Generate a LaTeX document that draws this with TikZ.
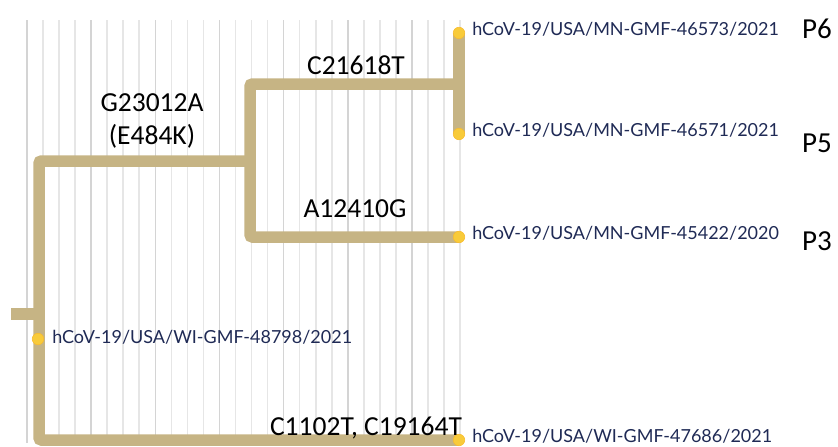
\documentclass[tikz,border=0pt]{standalone}
\usepackage{fontspec}
\usepackage{xcolor}
\usetikzlibrary{positioning, calc, backgrounds}
\newfontfamily\tipfont{Lato}
\newfontfamily\mutfont{Carlito}
\definecolor{branchtan}{HTML}{C6B484}
\definecolor{tipyellow}{HTML}{F8CB3A}
\definecolor{tipnavy}{HTML}{1F2A55}
\definecolor{gridlight}{HTML}{E6E6E6}
\definecolor{griddark}{HTML}{D4D4D4}

\begin{document}
\begin{tikzpicture}[
    x=1pt, y=-1pt,
    branch/.style={draw=branchtan, line width=11.5pt, rounded corners=2.5pt},
    tipdot/.style={circle, fill=tipyellow, draw=tipyellow!80!orange, line width=0.6pt, inner sep=0pt, minimum size=11.5pt},
    tiplabel/.style={font=\tipfont\fontsize{18}{20}\selectfont, text=tipnavy, inner sep=0pt},
    mutation/.style={font=\mutfont\fontsize{27.5}{32}\selectfont, inner sep=0pt, anchor=base},
    patient/.style={font=\mutfont\fontsize{29}{32}\selectfont, inner sep=0pt, anchor=base west},
    gridline/.style={draw=#1, line width=1.6pt}
]
\useasboundingbox (0,0) rectangle (838,447);

% Internal nodes
\coordinate (stub) at (11,314);
\coordinate (root) at (39,314);
\coordinate (nA) at (250,161);
\coordinate (nB) at (459,84);

% Tips
\node[tipdot] (d46573) at (459,33) {};
\node[tipdot] (d46571) at (459,134) {};
\node[tipdot] (d45422) at (459,237) {};
\node[tipdot] (d48798) at (38,339) {};
\node[tipdot] (d47686) at (459,440) {};

\begin{scope}[on background layer]
% Grid
\foreach \i in {0,...,27} {
  \pgfmathtruncatemacro{\major}{mod(\i,4)==0}
  \ifnum\major=1
    \draw[gridline=griddark] (27+16.04*\i,20) -- (27+16.04*\i,443);
  \else
    \draw[gridline=gridlight] (27+16.04*\i,20) -- (27+16.04*\i,443);
  \fi
}

% Branches
\draw[branch] (stub) -- (root);
\draw[branch] (root) |- (nA);
\draw[branch] (root) |- (d47686.center);
\draw[branch] (nA) |- (nB);
\draw[branch] (nA) |- (d45422.center);
\draw[branch] (nB) -- (d46573.center);
\draw[branch] (nB) -- (d46571.center);
\end{scope}

% Tip labels
\node[tiplabel, right=7pt of d46573, anchor=base west, yshift=-2pt] (l46573) {hCoV-19/USA/MN-GMF-46573/2021};
\node[tiplabel, right=7pt of d46571, anchor=base west, yshift=-2pt] (l46571) {hCoV-19/USA/MN-GMF-46571/2021};
\node[tiplabel, right=7pt of d45422, anchor=base west, yshift=-2pt] (l45422) {hCoV-19/USA/MN-GMF-45422/2020};
\node[tiplabel, right=8pt of d48798, anchor=base west, yshift=-4pt] (l48798) {hCoV-19/USA/WI-GMF-48798/2021};
\node[tiplabel, right=7pt of d47686, anchor=base west, yshift=-2pt] (l47686) {hCoV-19/USA/WI-GMF-47686/2021};

% Patients
\node[patient] (p6) at (802,38) {P6};
\node[patient] (p5) at (802,152) {P5};
\node[patient] (p3) at (802,250) {P3};

% Mutations
\node[mutation] (mB) at (356,74) {C21618T};
\node[mutation] (mA) at (152,111) {G23012A};
\node[mutation] (mA2) at (152,144) {(E484K)};
\node[mutation] (m45422) at (355,217) {A12410G};
\node[mutation] (m47686) at (366,435) {C1102T, C19164T};

\end{tikzpicture}
\end{document}
